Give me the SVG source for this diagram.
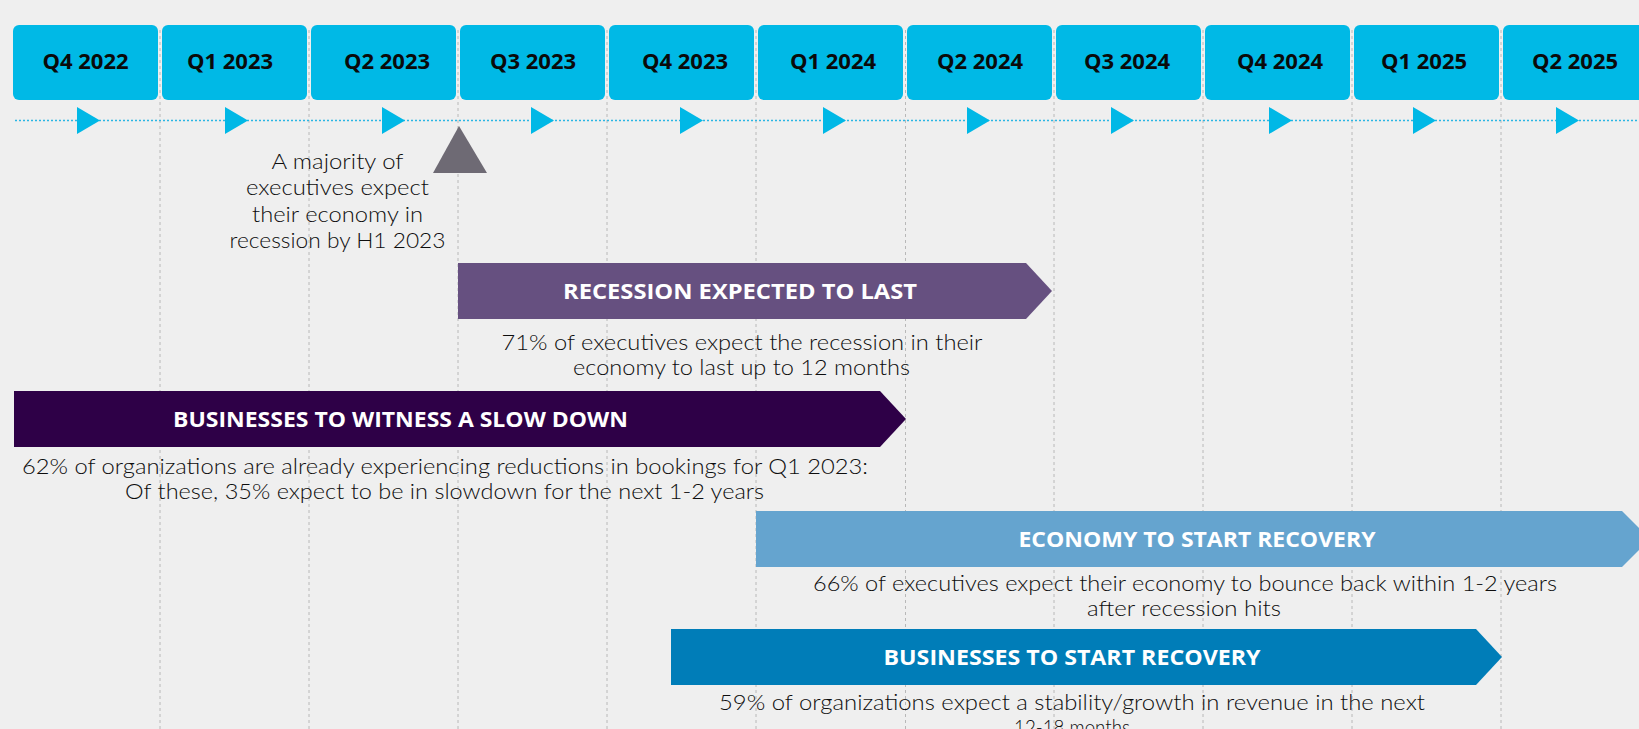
<svg xmlns="http://www.w3.org/2000/svg" width="1639" height="729" viewBox="0 0 1639 729">
<style>
.bg{fill:#efefef}
.grid{stroke:#b8b8b8;stroke-width:1;stroke-dasharray:3 3;fill:none}
.axis{stroke:#2ab6e4;stroke-width:1.6;stroke-dasharray:2 2;fill:none}
.tri{fill:#00b8e6}
.qbox{fill:#00b9e6}
.qlbl{font-family:"Open Sans","Liberation Sans",sans-serif;font-weight:700;font-size:22px;fill:#0a0a0a;text-anchor:middle}
.blbl{font-family:"Open Sans","Liberation Sans",sans-serif;font-weight:700;font-size:22px;fill:#ffffff;text-anchor:middle}
.desc{font-family:Lato,"Open Sans","Liberation Sans",sans-serif;font-weight:300;font-size:22px;fill:#0d0d0d;text-anchor:middle}
.note{font-family:Lato,"Open Sans","Liberation Sans",sans-serif;font-weight:300;font-size:21px;fill:#0d0d0d;text-anchor:middle}
</style>
<rect class="bg" x="0" y="0" width="1639" height="729"/>
<g id="grid">
<line class="grid" x1="160" y1="30" x2="160" y2="729"/>
<line class="grid" x1="309" y1="30" x2="309" y2="729"/>
<line class="grid" x1="458" y1="30" x2="458" y2="729"/>
<line class="grid" x1="607" y1="30" x2="607" y2="729"/>
<line class="grid" x1="756" y1="30" x2="756" y2="729"/>
<line class="grid" x1="905.5" y1="30" x2="905.5" y2="729"/>
<line class="grid" x1="1054" y1="30" x2="1054" y2="729"/>
<line class="grid" x1="1203" y1="30" x2="1203" y2="729"/>
<line class="grid" x1="1352" y1="30" x2="1352" y2="729"/>
<line class="grid" x1="1501" y1="30" x2="1501" y2="729"/>
</g>
<g id="connectors">
<line class="axis" x1="15" y1="120.5" x2="1639" y2="120.5"/>
<polygon class="tri" points="77,107 100,120.5 77,134"/>
<polygon class="tri" points="225,107 248,120.5 225,134"/>
<polygon class="tri" points="382,107 405,120.5 382,134"/>
<polygon class="tri" points="531,107 554,120.5 531,134"/>
<polygon class="tri" points="680,107 703,120.5 680,134"/>
<polygon class="tri" points="823,107 846,120.5 823,134"/>
<polygon class="tri" points="967,107 990,120.5 967,134"/>
<polygon class="tri" points="1111,107 1134,120.5 1111,134"/>
<polygon class="tri" points="1269,107 1292,120.5 1269,134"/>
<polygon class="tri" points="1413,107 1436,120.5 1413,134"/>
<polygon class="tri" points="1556,107 1579,120.5 1556,134"/>
</g>
<g id="q4-2022"><rect class="qbox" x="13" y="25" width="145" height="75" rx="6"/><text class="qlbl" x="85.5" y="69">Q4 2022</text></g>
<g id="q1-2023"><rect class="qbox" x="162" y="25" width="145" height="75" rx="6"/><text class="qlbl" x="230" y="69">Q1 2023</text></g>
<g id="q2-2023"><rect class="qbox" x="311" y="25" width="145" height="75" rx="6"/><text class="qlbl" x="387" y="69">Q2 2023</text></g>
<g id="q3-2023"><rect class="qbox" x="460" y="25" width="145" height="75" rx="6"/><text class="qlbl" x="533" y="69">Q3 2023</text></g>
<g id="q4-2023"><rect class="qbox" x="609" y="25" width="145" height="75" rx="6"/><text class="qlbl" x="685" y="69">Q4 2023</text></g>
<g id="q1-2024"><rect class="qbox" x="758" y="25" width="145" height="75" rx="6"/><text class="qlbl" x="833" y="69">Q1 2024</text></g>
<g id="q2-2024"><rect class="qbox" x="907" y="25" width="145" height="75" rx="6"/><text class="qlbl" x="980" y="69">Q2 2024</text></g>
<g id="q3-2024"><rect class="qbox" x="1056" y="25" width="145" height="75" rx="6"/><text class="qlbl" x="1127" y="69">Q3 2024</text></g>
<g id="q4-2024"><rect class="qbox" x="1205" y="25" width="145" height="75" rx="6"/><text class="qlbl" x="1280" y="69">Q4 2024</text></g>
<g id="q1-2025"><rect class="qbox" x="1354" y="25" width="145" height="75" rx="6"/><text class="qlbl" x="1424" y="69">Q1 2025</text></g>
<g id="q2-2025"><rect class="qbox" x="1503" y="25" width="145" height="75" rx="6"/><text class="qlbl" x="1575" y="69">Q2 2025</text></g>
<g id="recession-marker">
<polygon points="459,126 487,173 433,173" fill="#6e6a74"/>
<text class="note" x="337.5" y="169" textLength="132" lengthAdjust="spacingAndGlyphs">A majority of</text>
<text class="note" x="337.5" y="195" textLength="183" lengthAdjust="spacingAndGlyphs">executives expect</text>
<text class="note" x="337.5" y="221.5" textLength="171" lengthAdjust="spacingAndGlyphs">their economy in</text>
<text class="note" x="337.5" y="248" textLength="216" lengthAdjust="spacingAndGlyphs">recession by H1 2023</text>
</g>
<g id="recession-last">
<polygon points="458,263 1026,263 1052,291 1026,319 458,319" fill="#665080"/>
<text class="blbl" x="740" y="299" textLength="354" lengthAdjust="spacingAndGlyphs">RECESSION EXPECTED TO LAST</text>
<text class="desc" x="742" y="350" textLength="481" lengthAdjust="spacingAndGlyphs">71% of executives expect the recession in their</text>
<text class="desc" x="741.5" y="375" textLength="337" lengthAdjust="spacingAndGlyphs">economy to last up to 12 months</text>
</g>
<g id="slowdown">
<polygon points="14,391 880,391 906,419 880,447 14,447" fill="#2e0047"/>
<text class="blbl" x="400.5" y="427" textLength="455" lengthAdjust="spacingAndGlyphs">BUSINESSES TO WITNESS A SLOW DOWN</text>
<text class="desc" x="445" y="474" textLength="846" lengthAdjust="spacingAndGlyphs">62% of organizations are already experiencing reductions in bookings for Q1 2023:</text>
<text class="desc" x="444.5" y="499" textLength="639" lengthAdjust="spacingAndGlyphs">Of these, 35% expect to be in slowdown for the next 1-2 years</text>
</g>
<g id="economy-recovery">
<polygon points="756,511 1622,511 1650,539 1622,567 756,567" fill="#65a4cf"/>
<text class="blbl" x="1197" y="547" textLength="357" lengthAdjust="spacingAndGlyphs">ECONOMY TO START RECOVERY</text>
<text class="desc" x="1185" y="591" textLength="744" lengthAdjust="spacingAndGlyphs">66% of executives expect their economy to bounce back within 1-2 years</text>
<text class="desc" x="1184" y="616" textLength="194" lengthAdjust="spacingAndGlyphs">after recession hits</text>
</g>
<g id="business-recovery">
<polygon points="671,629 1476,629 1502,657 1476,685 671,685" fill="#007db8"/>
<text class="blbl" x="1072" y="665" textLength="377" lengthAdjust="spacingAndGlyphs">BUSINESSES TO START RECOVERY</text>
<text class="desc" x="1072" y="710" textLength="706" lengthAdjust="spacingAndGlyphs">59% of organizations expect a stability/growth in revenue in the next</text>
<text class="desc" x="1072" y="735" textLength="116" lengthAdjust="spacingAndGlyphs">12-18 months</text>
</g>
</svg>
